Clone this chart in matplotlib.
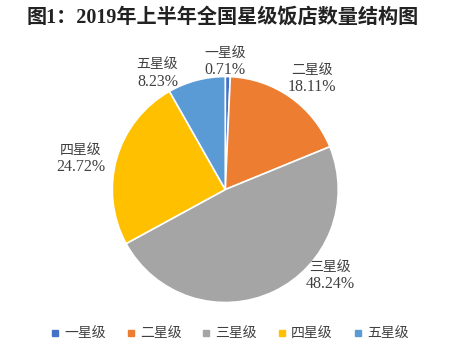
import matplotlib
matplotlib.use("Agg")
import matplotlib.pyplot as plt
from matplotlib.lines import Line2D

# data
categories = ["一星级", "二星级", "三星级", "四星级", "五星级"]
shares = [0.71, 18.11, 48.24, 24.72, 8.23]
colors = ["#4472C4", "#ED7D31", "#A5A5A5", "#FFC000", "#5B9BD5"]

# label spots (axes data units, pie radius = 1)
label_pos = [(0.0, 1.13), (0.77, 0.98), (0.93, -0.76), (-1.28, 0.27), (-0.60, 1.03)]

fonts = ["Liberation Serif", "Noto Sans CJK SC"]
plt.rcParams["font.family"] = fonts

fig = plt.figure(figsize=(4.64, 3.61), dpi=100)
fig.text(0.48, 0.95, "图1：2019年上半年全国星级饭店数量结构图", ha="center", va="center",
         fontsize=14.5, fontweight="bold", color="#222222")

ax = fig.add_axes([0.242, 0.162, 0.487, 0.626])
wedges, _ = ax.pie(shares, colors=colors, startangle=90, counterclock=False,
                   wedgeprops=dict(edgecolor="white", linewidth=1.2))
ax.set_xlim(-1, 1)
ax.set_ylim(-1, 1)
ax.set_aspect("auto")

for name, val, (x, y) in zip(categories, shares, label_pos):
    ax.text(x, y + 0.07, name, ha="center", va="center", fontsize=10,
            color="#404040", family=["Noto Sans CJK SC", "DejaVu Sans"])
    ax.text(x, y - 0.075, "%.2f%%" % val, ha="center", va="center", fontsize=11.5,
            color="#404040")

handles = [Line2D([], [], marker="s", linestyle="none", markersize=4,
                  markerfacecolor=c, markeredgecolor=c) for c in colors]
fig.legend(handles, categories, loc="center", bbox_to_anchor=(0.495, 0.075), ncol=5,
           frameon=False, fontsize=10, handlelength=0.6, handletextpad=0.35,
           columnspacing=1.5, labelcolor="#404040")

fig.savefig("out.png", dpi=100)
